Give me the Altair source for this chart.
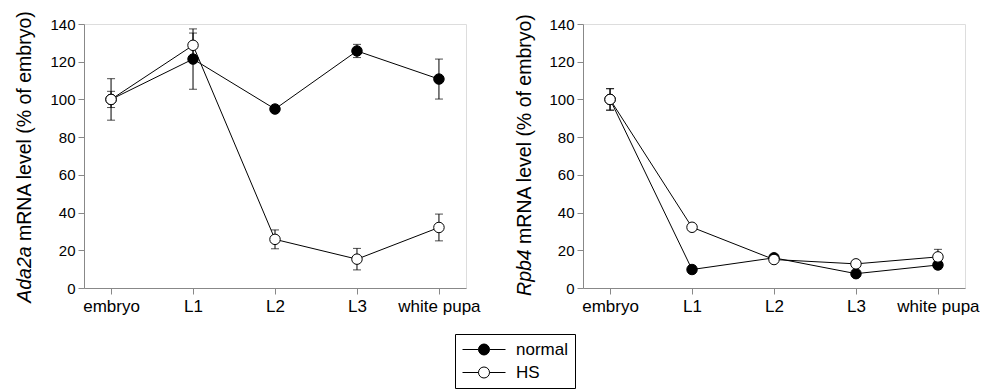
import altair as alt
import pandas as pd

stages = ["embryo", "L1", "L2", "L3", "white pupa"]
series = ["normal", "HS"]

ada_normal = [100, 121.4, 94.9, 125.7, 110.8]
ada_normal_err = [11, 16, 1.5, 3.5, 10.6]
ada_hs = [100, 128.7, 25.8, 15.3, 32.1]
ada_hs_err = [4.3, 6.5, 5, 5.7, 7.1]

rpb_normal = [100, 9.8, 16, 7.6, 12.2]
rpb_normal_err = [5.7, 2, 1.5, 1.5, 2]
rpb_hs = [100, 32.2, 15.1, 12.8, 16.5]
rpb_hs_err = [5.7, 1.5, 1.5, 1.5, 4]

y_ticks = [0, 20, 40, 60, 80, 100, 120, 140]

FONT = "Liberation Sans"
TFS = 19.5


def make_df(nv, ne, hv, he):
    rows = []
    for k, (s, vals, errs) in enumerate((("normal", nv, ne), ("HS", hv, he))):
        for st, v, e in zip(stages, vals, errs):
            rows.append({"stage": st, "series": s, "value": v,
                         "lo": v - e, "hi": v + e, "ord": k})
    return pd.DataFrame(rows)


def panel(df, italic, rest, j_y, tx, show_legend):
    base = alt.Chart(df)
    x = alt.X("stage:N", sort=stages,
              scale=alt.Scale(type="point", domain=stages, padding=0.33),
              axis=alt.Axis(title=None, labelAngle=0, labelFontSize=17,
                            labelPadding=4, ticks=True, tickSize=6,
                            grid=False))
    y_scale = alt.Scale(domain=[0, 140], nice=False, zero=True)
    y_axis = alt.Axis(title=None, values=y_ticks, labelFontSize=15,
                      labelPadding=3, tickSize=6, grid=False,
                      labelOverlap=False)
    y = alt.Y("value:Q", scale=y_scale, axis=y_axis)
    lines = base.mark_line(color="black", strokeWidth=1).encode(
        x=x, y=y, detail="series:N")
    rules = base.mark_rule(color="black", strokeWidth=1).encode(
        x=x, y=alt.Y("lo:Q", scale=y_scale, axis=y_axis), y2="hi:Q")
    cap_lo = base.mark_tick(color="black", size=8, thickness=1,
                            orient="horizontal").encode(
        x=x, y=alt.Y("lo:Q", scale=y_scale, axis=y_axis))
    cap_hi = base.mark_tick(color="black", size=8, thickness=1,
                            orient="horizontal").encode(
        x=x, y=alt.Y("hi:Q", scale=y_scale, axis=y_axis))
    legend = alt.Legend(
        title=None, orient="none", legendX=371, legendY=310,
        direction="vertical",
        symbolType="M-1,0L-0.256,0M0.256,0L1,0M-0.256,0A0.256,0.256,0,1,0,0.256,0A0.256,0.256,0,1,0,-0.256,0Z",
        symbolSize=1849, symbolStrokeColor="black", symbolStrokeWidth=1,
        labelFontSize=17, labelFont=FONT, labelColor="black",
        labelOffset=10, strokeColor="black", padding=7, clipHeight=17,
        cornerRadius=0, rowPadding=5,
        labelExpr="datum.label + '         '")
    pts = base.mark_point(filled=True, size=110, stroke="black",
                          strokeWidth=1, opacity=1).encode(
        x=x, y=y,
        fill=alt.Fill("series:N",
                      scale=alt.Scale(domain=series, range=["black", "white"]),
                      legend=legend if show_legend else None),
        order=alt.Order("ord:Q"))
    t1 = alt.Chart(pd.DataFrame({"t": [italic]})).mark_text(
        angle=270, align="right", baseline="middle", fontSize=TFS,
        fontStyle="italic", font=FONT, color="black").encode(
        text="t:N", x=alt.value(tx), y=alt.value(j_y))
    t2 = alt.Chart(pd.DataFrame({"t": [rest]})).mark_text(
        angle=270, align="left", baseline="middle", fontSize=TFS,
        font=FONT, color="black").encode(
        text="t:N", x=alt.value(tx), y=alt.value(j_y - 5.4))
    return alt.layer(lines, rules, cap_lo, cap_hi, pts, t1, t2).properties(
        width=382, height=264)


ada = make_df(ada_normal, ada_normal_err, ada_hs, ada_hs_err)
rpb = make_df(rpb_normal, rpb_normal_err, rpb_hs, rpb_hs_err)

left = panel(ada, "Ada2a", "mRNA level (% of embryo)", 222.4, -59, True)
right = panel(rpb, "Rpb4", "mRNA level (% of embryo)", 225.3, -58, False)

chart = alt.hconcat(left, right, spacing=33).properties(
    padding={"left": 6, "top": 1, "right": 0, "bottom": 0}
).configure_view(stroke="black", strokeWidth=1).configure_axis(
    domainColor="black", tickColor="black", labelColor="black",
    labelFont=FONT, domainWidth=1, tickWidth=1
).configure(background="white")

chart.save("out.html", embed_options={"renderer": "svg", "actions": False})
